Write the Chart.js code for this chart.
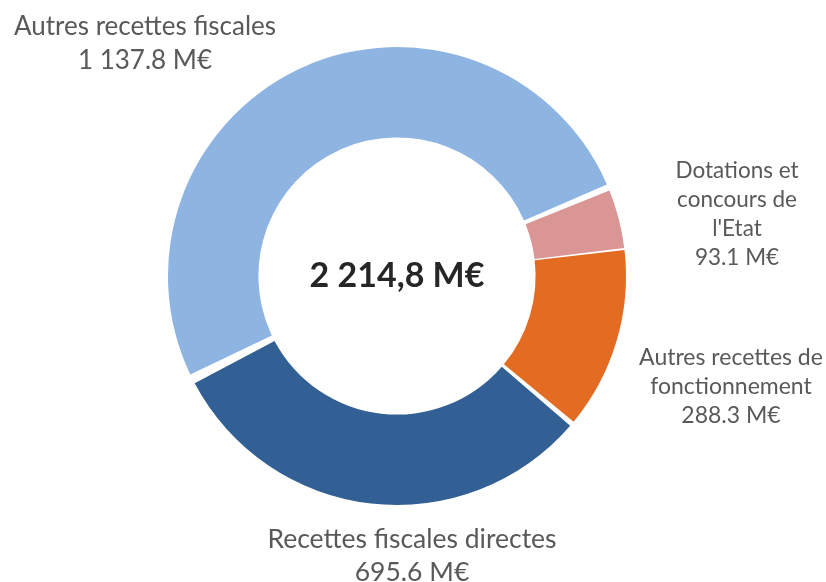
<!DOCTYPE html>
<html>
<head>
<meta charset="utf-8">
<script src="https://cdn.jsdelivr.net/npm/chart.js@4/dist/chart.umd.min.js"></script>
<style>
  html, body { margin: 0; padding: 0; background: #fff; }
  #chart { display: block; }
</style>
</head>
<body>
<canvas id="chart" width="826" height="582"></canvas>
<script>
const categories = [
  'Autres recettes fiscales',
  'Dotations et concours de l\'Etat',
  'Autres recettes de fonctionnement',
  'Recettes fiscales directes',
];
const values = [1137.8, 93.1, 288.3, 695.6];
const labelLines = [
  ['Autres recettes fiscales', '1 137.8 M€'],
  ['Dotations et', 'concours de', 'l\'Etat', '93.1 M€'],
  ['Autres recettes de', 'fonctionnement', '288.3 M€'],
  ['Recettes fiscales directes', '695.6 M€'],
];
const totalLabel = '2 214,8 M€';

const colors = ['#8EB4E2', '#D99694', '#E46C22', '#326094'];

// label block placement, relative to the doughnut centre (first line centre)
const labelStyle = [
  { dx: -252, dy: -249, size: 26, lh: 34 },
  { dx: 340, dy: -105, size: 22.5, lh: 29 },
  { dx: 334, dy: 82, size: 23, lh: 29 },
  { dx: 15, dy: 263, size: 26.5, lh: 33 },
];

const outsideLabels = {
  id: 'outsideLabels',
  afterDraw(chart) {
    const ctx = chart.ctx;
    const arc = chart.getDatasetMeta(0).data[0];
    const cx = arc.x, cy = arc.y;
    ctx.save();
    ctx.textAlign = 'center';
    ctx.textBaseline = 'middle';
    labelLines.forEach((lines, i) => {
      const s = labelStyle[i];
      ctx.fillStyle = '#595959';
      ctx.font = s.size + 'px Lato';
      lines.forEach((t, j) => ctx.fillText(t, cx + s.dx, cy + s.dy + j * s.lh));
    });
    ctx.fillStyle = '#262626';
    ctx.font = 'bold 34px Lato';
    ctx.fillText(totalLabel, cx, cy);
    ctx.restore();
  },
};

new Chart(document.getElementById('chart').getContext('2d'), {
  type: 'doughnut',
  data: {
    labels: categories,
    datasets: [{
      data: values,
      backgroundColor: colors,
      borderWidth: 0,
      spacing: 6,
    }],
  },
  options: {
    responsive: false,
    animation: false,
    rotation: 243,
    cutout: '60%',
    layout: { padding: { left: 168, right: 200, top: 47, bottom: 77 } },
    plugins: {
      legend: { display: false },
      tooltip: { enabled: false },
    },
  },
  plugins: [outsideLabels],
});
</script>
</body>
</html>
